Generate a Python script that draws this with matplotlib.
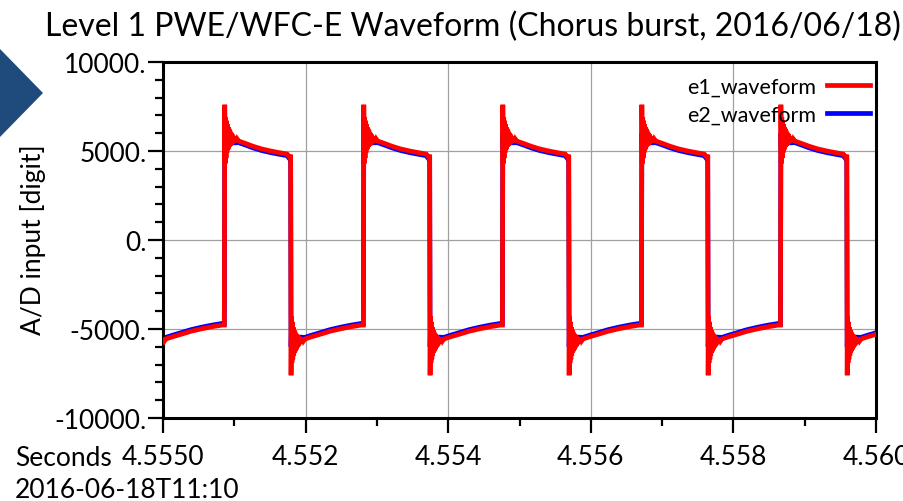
import numpy as np
import matplotlib
matplotlib.use("Agg")
import matplotlib.pyplot as plt
from matplotlib.patches import Polygon

plt.rcParams["font.family"] = ["Lato", "DejaVu Sans"]

title = "Level 1 PWE/WFC-E Waveform (Chorus burst, 2016/06/18)"
y_label = "A/D input [digit]"
x_unit_label = "Seconds"
date_label = "2016-06-18T11:10"
series_names = ["e1_waveform", "e2_waveform"]

x_ticks = [4.550, 4.552, 4.554, 4.556, 4.558, 4.560]
x_tick_labels = ["4.5550", "4.552", "4.554", "4.556", "4.558", "4.560"]
y_ticks = [-10000, -5000, 0, 5000, 10000]
y_tick_labels = ["-10000.", "-5000.", "0.", "5000.", "10000."]

# edge times (s)
rise_times = [4.55086, 4.55281, 4.55476, 4.55671, 4.55866]
fall_times = [4.54984, 4.55179, 4.55374, 4.55569, 4.55764, 4.55959]
ring_step_us = 6.0

# e1: ringing just after the edges (one sample per 6 us, first = value before the edge)
e1_ring_high = [-4780, 7600, 4300, 6900, 4600, 6700, 4900, 6500, 5050, 6350, 5150,
                6250, 5250, 6150, 5300, 6050, 5350, 5980, 5400, 5920, 5450, 5850,
                5480, 5800, 5500, 5760, 5520, 5720, 5530, 5680, 5540, 5640]
e1_high_dt = [200, 300, 400, 520, 650, 780, 880, 915]
e1_high_val = [5560, 5420, 5270, 5120, 5000, 4900, 4830, 4650]
e1_ring_low = [4800, -7600, -4300, -6900, -4600, -6700, -4900, -6500, -5050, -6350,
               -5150, -6250, -5250, -6150, -5300, -6050, -5350, -5980, -5400, -5920,
               -5450, -5850, -5480, -5800, -5500, -5760, -5520, -5720, -5530, -5680,
               -5540, -5640]
e1_low_dt = [200, 300, 420, 550, 700, 850, 990]
e1_low_val = [-5560, -5430, -5290, -5130, -4990, -4870, -4780]

# e2
e2_ring_high = [-4700, 6000, 5000, 5700, 5100, 5600, 5200, 5500, 5250, 5450, 5300, 5400]
e2_high_dt = [100, 200, 300, 400, 520, 650, 780, 880, 915]
e2_high_val = [5450, 5470, 5330, 5180, 5030, 4910, 4810, 4740, 4560]
e2_ring_low = [4740, -6000, -5000, -5700, -5100, -5600, -5200, -5500, -5250, -5450,
               -5300, -5400]
e2_low_dt = [100, 200, 300, 420, 550, 700, 850, 990]
e2_low_val = [-5450, -5470, -5340, -5200, -5040, -4900, -4780, -4690]


def build(ring_hi, hi_dt, hi_val, ring_lo, lo_dt, lo_dt_val, t_last):
    edges = []
    for i, f in enumerate(fall_times):
        edges.append((f, ring_lo, lo_dt, lo_dt_val))
        if i < len(rise_times):
            edges.append((rise_times[i], ring_hi, hi_dt, hi_val))
    ts, vs = [], []
    for k, (t0, ring, dts, vals) in enumerate(edges):
        t_end = edges[k + 1][0] if k + 1 < len(edges) else t_last
        seg_t = [t0 + j * ring_step_us * 1e-6 for j in range(len(ring))] + \
                [t0 + d * 1e-6 for d in dts]
        seg_v = list(ring) + list(vals)
        for t, v in zip(seg_t, seg_v):
            if t < t_end:
                ts.append(t)
                vs.append(v)
    return np.array(ts), np.array(vs)


t1, v1 = build(e1_ring_high, e1_high_dt, e1_high_val, e1_ring_low, e1_low_dt, e1_low_val, 4.5602)
t2, v2 = build(e2_ring_high, e2_high_dt, e2_high_val, e2_ring_low, e2_low_dt, e2_low_val, 4.5602)

W, H = 904, 502
fig = plt.figure(figsize=(W / 100, H / 100), dpi=100)
ax = fig.add_axes([163 / W, 83 / H, 713 / W, 356 / H])

l2, = ax.plot(t2, v2, color="#0000ff", lw=3.4, zorder=2, solid_joinstyle="miter")
l1, = ax.plot(t1, v1, color="#ff0000", lw=3.4, zorder=3, solid_joinstyle="miter")

ax.set_xlim(4.550, 4.560)
ax.set_ylim(-10000, 10000)
ax.set_xticks(x_ticks)
ax.set_xticklabels(x_tick_labels)
ax.set_xticks([4.551, 4.553, 4.555, 4.557, 4.559], minor=True)
ax.set_yticks(y_ticks)
ax.set_yticklabels(y_tick_labels)
ax.set_yticks([v for v in range(-9000, 10000, 1000) if v % 5000 != 0], minor=True)
ax.grid(True, which="major", color="#a0a0a0", lw=0.9, zorder=0)
ax.set_axisbelow(True)
for s in ax.spines.values():
    s.set_linewidth(2.2)
ax.tick_params(which="major", direction="out", length=11, width=1.6, labelsize=19)
ax.tick_params(which="minor", direction="out", length=5.5, width=1.6)
ax.tick_params(axis="y", pad=1)
ax.tick_params(axis="x", pad=7.5)

fig.text(473 / W, 1 - 36 / H, title, ha="center", va="baseline", fontsize=23)
fig.text(33 / W, 1 - 240 / H, y_label, rotation=90, ha="center", va="center", fontsize=19)
fig.text(15 / W, 1 - 466 / H, x_unit_label, ha="left", va="baseline", fontsize=19)
fig.text(15 / W, 1 - 498 / H, date_label, ha="left", va="baseline", fontsize=19)

ax.legend([l1, l2], series_names, loc="upper right", frameon=False, markerfirst=False,
          fontsize=15.5, handlelength=2.0, handletextpad=0.5, labelspacing=0.35,
          borderaxespad=0, borderpad=0, bbox_to_anchor=(1 - 6 / 713, 1 - 15 / 356))

tri = Polygon([(0, 1 - 50 / H), (43 / W, 1 - 94 / H), (0, 1 - 138 / H)],
              closed=True, transform=fig.transFigure, facecolor="#1f4a7c",
              edgecolor="none")
fig.patches.append(tri)

fig.savefig("out.png", dpi=100)
